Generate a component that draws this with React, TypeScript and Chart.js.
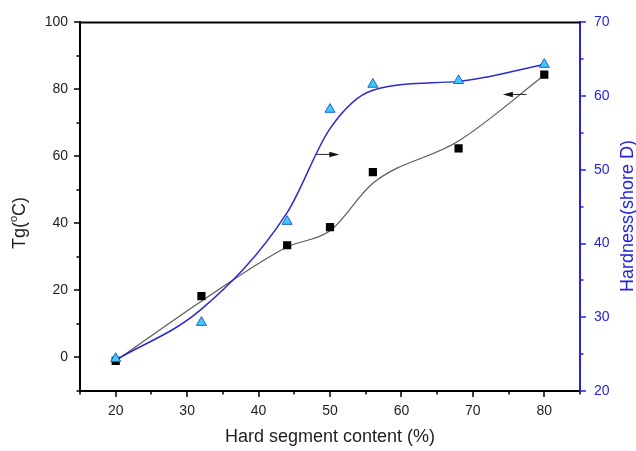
import React, { useEffect, useRef } from "react";
import { Chart, registerables } from "chart.js";

Chart.register(...registerables);

// ---- data ----
const hardSegment = [20, 32, 44, 50, 56, 68, 80];
const tgValues = [-1, 18.3, 33.5, 38.9, 55.3, 62.4, 84.4];
const hardnessValues = [24.4, 29.3, 43.0, 58.2, 61.6, 62.1, 64.3];
// smoothed fit curves as read at the same x positions
const tgCurve = [-1, 16.8, 33.0, 37.8, 52.0, 64.6, 84.2];
const hardnessCurve = [24.2, 31.1, 44.2, 55.6, 60.8, 62.0, 64.3];

// ---- tick labels ----
const xMajor = [20, 30, 40, 50, 60, 70, 80];
const xMinor = [15, 25, 35, 45, 55, 65, 75, 85];
const yMajor = [0, 20, 40, 60, 80, 100];
const yMinor = [-10, 10, 30, 50, 70, 90];
const y1Major = [20, 30, 40, 50, 60, 70];
const y1Minor = [25, 35, 45, 55, 65];

// ---- arrows (x from, x to, Tg level) ----
const arrowRight = [48.1, 51.3, 60.6];
const arrowLeft = [77.5, 74.2, 78.5];

const FONT = "'Liberation Sans', Arial, Helvetica, sans-serif";
const BLUE = "#2424e0";
const TEXT = "#1e1e1e";

const overlay = {
  id: "overlay",
  afterDraw(chart: any) {
    const { ctx, chartArea: ca, scales } = chart;
    const sx = scales.x, sy = scales.y, sy1 = scales.y1;
    ctx.save();
    // top frame
    ctx.strokeStyle = "#000";
    ctx.lineWidth = 2;
    ctx.beginPath();
    ctx.moveTo(ca.left - 1, ca.top);
    ctx.lineTo(ca.right, ca.top);
    ctx.stroke();

    const drawTicks = (vals: number[], len: number, kind: string) => {
      ctx.beginPath();
      vals.forEach((v) => {
        if (kind === "x") {
          const p = Math.round(sx.getPixelForValue(v));
          ctx.moveTo(p, ca.bottom);
          ctx.lineTo(p, ca.bottom + len);
        } else if (kind === "y") {
          const p = Math.round(sy.getPixelForValue(v));
          ctx.moveTo(ca.left, p);
          ctx.lineTo(ca.left - len, p);
        } else {
          const p = Math.round(sy1.getPixelForValue(v));
          ctx.moveTo(ca.right, p);
          ctx.lineTo(ca.right + len, p);
        }
      });
      ctx.stroke();
    };
    ctx.lineWidth = 1.5;
    ctx.strokeStyle = "#000";
    drawTicks(xMajor, 6, "x");
    drawTicks(xMinor, 3.5, "x");
    drawTicks(yMajor, 6, "y");
    drawTicks(yMinor, 3.5, "y");
    ctx.strokeStyle = BLUE;
    drawTicks(y1Major, 6, "y1");
    drawTicks(y1Minor, 3.5, "y1");

    // arrows
    const arrow = (a: number[]) => {
      const x0 = sx.getPixelForValue(a[0]);
      const x1 = sx.getPixelForValue(a[1]);
      const y = sy.getPixelForValue(a[2]);
      const dir = Math.sign(x1 - x0);
      ctx.strokeStyle = "#222";
      ctx.fillStyle = "#111";
      ctx.lineWidth = 1;
      ctx.beginPath();
      ctx.moveTo(x0, y);
      ctx.lineTo(x1 - dir * 6, y);
      ctx.stroke();
      ctx.beginPath();
      ctx.moveTo(x1, y);
      ctx.lineTo(x1 - dir * 10, y - 2.8);
      ctx.lineTo(x1 - dir * 10, y + 2.8);
      ctx.closePath();
      ctx.fill();
    };
    arrow(arrowRight);
    arrow(arrowLeft);

    // left title Tg(°C) with superscript o
    ctx.fillStyle = TEXT;
    ctx.save();
    ctx.translate(20, 223);
    ctx.rotate(-Math.PI / 2);
    ctx.textBaseline = "middle";
    ctx.textAlign = "left";
    const big = `18px ${FONT}`;
    const small = `11px ${FONT}`;
    ctx.font = big;
    const w1 = ctx.measureText("Tg(").width;
    const w3 = ctx.measureText("C)").width;
    ctx.font = small;
    const w2 = ctx.measureText("o").width;
    const total = w1 + w2 + w3;
    let cx = -total / 2;
    ctx.font = big;
    ctx.fillText("Tg(", cx, 0);
    cx += w1;
    ctx.font = small;
    ctx.fillText("o", cx, -6);
    cx += w2;
    ctx.font = big;
    ctx.fillText("C)", cx, 0);
    ctx.restore();

    // right title, reading bottom to top
    ctx.save();
    ctx.translate(628, 216);
    ctx.rotate(-Math.PI / 2);
    ctx.textAlign = "center";
    ctx.textBaseline = "middle";
    ctx.font = `18px ${FONT}`;
    ctx.fillStyle = BLUE;
    ctx.fillText("Hardness(shore D)", 0, 0);
    ctx.restore();

    ctx.restore();
  },
};

const pts = (ys: number[]) => hardSegment.map((x, i) => ({ x, y: ys[i] }));

export default function App() {
  const ref = useRef<HTMLCanvasElement | null>(null);
  useEffect(() => {
    if (!ref.current) return;
    const chart = new Chart(ref.current, {
      type: "line",
      data: {
        datasets: [
          {
            label: "Hardness",
            data: pts(hardnessValues),
            yAxisID: "y1",
            showLine: false,
            pointStyle: "triangle",
            pointRadius: 5.8,
            pointBackgroundColor: "#3ec9f7",
            pointBorderColor: "#1d62d6",
            pointBorderWidth: 1,
            order: 0,
          },
          {
            label: "Tg",
            data: pts(tgValues),
            yAxisID: "y",
            showLine: false,
            pointStyle: "rect",
            pointRadius: 5.8,
            pointBackgroundColor: "#000",
            pointBorderColor: "#000",
            pointBorderWidth: 0,
            order: 1,
          },
          {
            label: "Hardness fit",
            data: pts(hardnessCurve),
            yAxisID: "y1",
            borderColor: "#2b2bcf",
            borderWidth: 1.5,
            pointRadius: 0,
            cubicInterpolationMode: "monotone",
            fill: false,
            order: 2,
          },
          {
            label: "Tg fit",
            data: pts(tgCurve),
            yAxisID: "y",
            borderColor: "#5a5a5a",
            borderWidth: 1.2,
            pointRadius: 0,
            cubicInterpolationMode: "monotone",
            fill: false,
            order: 3,
          },
        ],
      },
      options: {
        responsive: false,
        animation: false,
        layout: { padding: { top: 20, left: 0, right: 0, bottom: 0 } },
        plugins: {
          legend: { display: false },
          tooltip: { enabled: false },
        },
        scales: {
          x: {
            type: "linear",
            min: 15,
            max: 85,
            afterBuildTicks: (s: any) => {
              s.ticks = xMajor.map((v) => ({ value: v }));
            },
            afterFit: (s: any) => {
              s.height = 60;
            },
            grid: { display: false, drawTicks: false },
            border: { display: true, color: "#000", width: 2 },
            ticks: {
              padding: 12,
              color: TEXT,
              font: { family: FONT, size: 14 },
              maxRotation: 0,
            },
            title: {
              display: true,
              text: "Hard segment content (%)",
              color: TEXT,
              font: { family: FONT, size: 18 },
              padding: { top: 0, bottom: 3 },
            },
          },
          y: {
            type: "linear",
            position: "left",
            min: -10,
            max: 100,
            afterBuildTicks: (s: any) => {
              s.ticks = yMajor.map((v) => ({ value: v }));
            },
            afterFit: (s: any) => {
              s.width = 80;
            },
            grid: { display: false, drawTicks: false },
            border: { display: true, color: "#000", width: 2 },
            ticks: {
              padding: 12,
              color: TEXT,
              font: { family: FONT, size: 14 },
            },
          },
          y1: {
            type: "linear",
            position: "right",
            min: 20,
            max: 70,
            afterBuildTicks: (s: any) => {
              s.ticks = y1Major.map((v) => ({ value: v }));
            },
            afterFit: (s: any) => {
              s.width = 56;
            },
            grid: { display: false, drawTicks: false },
            border: { display: true, color: BLUE, width: 2 },
            ticks: {
              padding: 14,
              color: BLUE,
              font: { family: FONT, size: 14 },
            },
          },
        },
      },
      plugins: [overlay],
    } as any);
    return () => chart.destroy();
  }, []);

  return (
    <div style={{ position: "fixed", left: 0, top: 0, width: 636, height: 451, background: "#fff" }}>
      <canvas ref={ref} width={636} height={451} />
    </div>
  );
}
